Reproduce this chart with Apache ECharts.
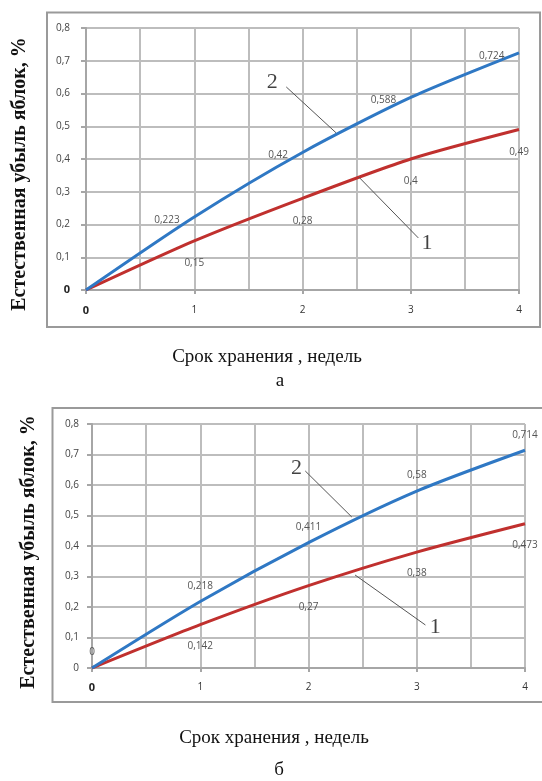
<!DOCTYPE html>
<html>
<head>
<meta charset="utf-8">
<script src="https://cdn.jsdelivr.net/npm/echarts@6/dist/echarts.min.js"></script>
<style>
html,body{margin:0;padding:0;background:#fff;}
#chart{width:542px;height:781px;}
</style>
</head>
<body>
<div id="chart"></div>
<script>
// ---- data ----
const weeks = [0, 1, 2, 3, 4];
const aSeries1 = [0, 0.15, 0.28, 0.4, 0.49];      // panel а, curve 1 (red)
const aSeries2 = [0, 0.223, 0.42, 0.588, 0.724];  // panel а, curve 2 (blue)
const bSeries1 = [0, 0.142, 0.27, 0.38, 0.473];   // panel б, curve 1 (red)
const bSeries2 = [0, 0.218, 0.411, 0.58, 0.714];  // panel б, curve 2 (blue)
const yTicks = [0, 0.1, 0.2, 0.3, 0.4, 0.5, 0.6, 0.7, 0.8];
const xTicks = [0, 1, 2, 3, 4];
const yName = 'Естественная убыль яблок, %';
const xName = 'Срок хранения , недель';
const panelNames = ['а', 'б'];
// annotation leaders in data coords: [labelPos, lineStart, lineEnd]
const aLeader2 = [[1.72, 0.635], [1.85, 0.62], [2.31, 0.48]];
const aLeader1 = [[3.15, 0.144], [3.07, 0.159], [2.52, 0.345]];
const bLeader2 = [[1.89, 0.656], [1.97, 0.646], [2.40, 0.495]];
const bLeader1 = [[3.17, 0.134], [3.08, 0.141], [2.43, 0.305]];

const RED = '#c0302e';
const BLUE = '#2f78c4';
const fmt = v => String(v).replace('.', ',');

const chart = echarts.init(document.getElementById('chart'));

function xAxisCfg(gi, margin) {
  return {
    type: 'value', gridIndex: gi, min: 0, max: 4, interval: 1,
    axisLine: {show: true, lineStyle: {color: '#a6a6a6', width: 2}},
    axisTick: {show: true, length: 4, lineStyle: {color: '#a6a6a6', width: 2}},
    minorTick: {show: false, splitNumber: 2},
    minorSplitLine: {show: true, lineStyle: {color: '#bdbdbd', width: 2}},
    splitLine: {show: true, lineStyle: {color: '#bdbdbd', width: 2}},
    axisLabel: {
      color: '#333', fontFamily: 'Open Sans', fontSize: 10, margin: margin,
      formatter: v => xTicks.includes(v) ? (v === 0 ? '{b|0}' : String(v)) : '',
      rich: {b: {fontWeight: 'bold', color: '#222', fontFamily: 'Open Sans', fontSize: 11}}
    }
  };
}
function yAxisCfg(gi, boldZero, margin) {
  return {
    type: 'value', gridIndex: gi, min: 0, max: 0.8, interval: 0.1,
    axisLine: {show: true, lineStyle: {color: '#a6a6a6', width: 2}},
    axisTick: {show: true, length: 5, lineStyle: {color: '#a6a6a6', width: 2}},
    splitLine: {show: true, lineStyle: {color: '#bdbdbd', width: 2}},
    axisLabel: {
      color: '#444', fontFamily: 'Open Sans', fontSize: 10, margin: margin,
      formatter: v => {
        const r = Math.round(v * 10) / 10;
        if (!yTicks.includes(r)) return '';
        return (r === 0 && boldZero) ? '{b|0}' : fmt(r);
      },
      rich: {b: {fontWeight: 'bold', color: '#222', fontFamily: 'Open Sans', fontSize: 11}}
    }
  };
}
function labelled(vals, pos, showZero, dist) {
  return weeks.map((w, i) => ({
    value: [w, vals[i]],
    label: {show: i > 0 || showZero, position: pos, distance: dist,
            color: '#555', fontFamily: 'Open Sans', fontSize: 10,
            formatter: p => fmt(p.value[1])}
  }));
}
function lineSeries(gi, data, color) {
  return {
    type: 'line', xAxisIndex: gi, yAxisIndex: gi, data: data, smooth: 0.25,
    symbol: 'circle', symbolSize: 1, showSymbol: true,
    lineStyle: {color: color, width: 3}, itemStyle: {color: 'rgba(0,0,0,0)'},
    label: {show: true}, z: 5
  };
}

const series = [
  lineSeries(0, labelled(aSeries1, 'bottom', false, 17), RED),
  lineSeries(0, labelled(aSeries2, 'left', false, 14), BLUE),
  lineSeries(1, labelled(bSeries1, 'bottom', false, 16), RED),
  lineSeries(1, labelled(bSeries2, 'top', true, 10), BLUE)
];
series[1].data.forEach(d => { d.label.offset = [0, 3]; });

const leaders = [[0, aLeader2, '2'], [0, aLeader1, '1'], [1, bLeader2, '2'], [1, bLeader1, '1']];
leaders.forEach(([gi, L, txt]) => {
  series.push({
    type: 'line', xAxisIndex: gi, yAxisIndex: gi, data: [L[1], L[2]],
    symbol: 'none', lineStyle: {color: '#555', width: 1}, silent: true, z: 6
  });
  series.push({
    type: 'scatter', xAxisIndex: gi, yAxisIndex: gi, data: [L[0]],
    symbolSize: 1, itemStyle: {color: 'rgba(0,0,0,0)'}, silent: true, z: 7,
    label: {show: true, position: 'inside', formatter: txt, color: '#111',
            fontFamily: 'Liberation Serif', fontSize: 22}
  });
});

chart.setOption({
  animation: false,
  backgroundColor: '#fff',
  grid: [
    {left: 86, right: 23, top: 28, height: 262},
    {left: 92, right: 17, top: 424, height: 244}
  ],
  xAxis: [xAxisCfg(0, 15), xAxisCfg(1, 14)],
  yAxis: [yAxisCfg(0, true, 16), yAxisCfg(1, false, 13)],
  series: series,
  graphic: [
    {type: 'rect', shape: {x: 47, y: 12.5, width: 493, height: 314.5}, z: -1,
     style: {fill: 'none', stroke: '#9a9a9a', lineWidth: 2}},
    {type: 'rect', shape: {x: 52.5, y: 408, width: 500, height: 294}, z: -1,
     style: {fill: 'none', stroke: '#9a9a9a', lineWidth: 2}},
    {type: 'text', x: 20, y: 174, rotation: Math.PI / 2, z: 10,
     style: {text: yName, fill: '#111', font: 'bold 20px "Liberation Serif"', align: 'center', verticalAlign: 'middle'}},
    {type: 'text', x: 29, y: 552, rotation: Math.PI / 2, z: 10,
     style: {text: yName, fill: '#111', font: 'bold 20px "Liberation Serif"', align: 'center', verticalAlign: 'middle'}},
    {type: 'text', x: 267, y: 357, z: 10,
     style: {text: xName, fill: '#111', font: '19px "Liberation Serif"', align: 'center', verticalAlign: 'middle'}},
    {type: 'text', x: 274, y: 738, z: 10,
     style: {text: xName, fill: '#111', font: '19px "Liberation Serif"', align: 'center', verticalAlign: 'middle'}},
    {type: 'text', x: 280, y: 381, z: 10,
     style: {text: panelNames[0], fill: '#111', font: '19px "Liberation Serif"', align: 'center', verticalAlign: 'middle'}},
    {type: 'text', x: 279, y: 770, z: 10,
     style: {text: panelNames[1], fill: '#111', font: '19px "Liberation Serif"', align: 'center', verticalAlign: 'middle'}}
  ]
});
</script>
</body>
</html>
